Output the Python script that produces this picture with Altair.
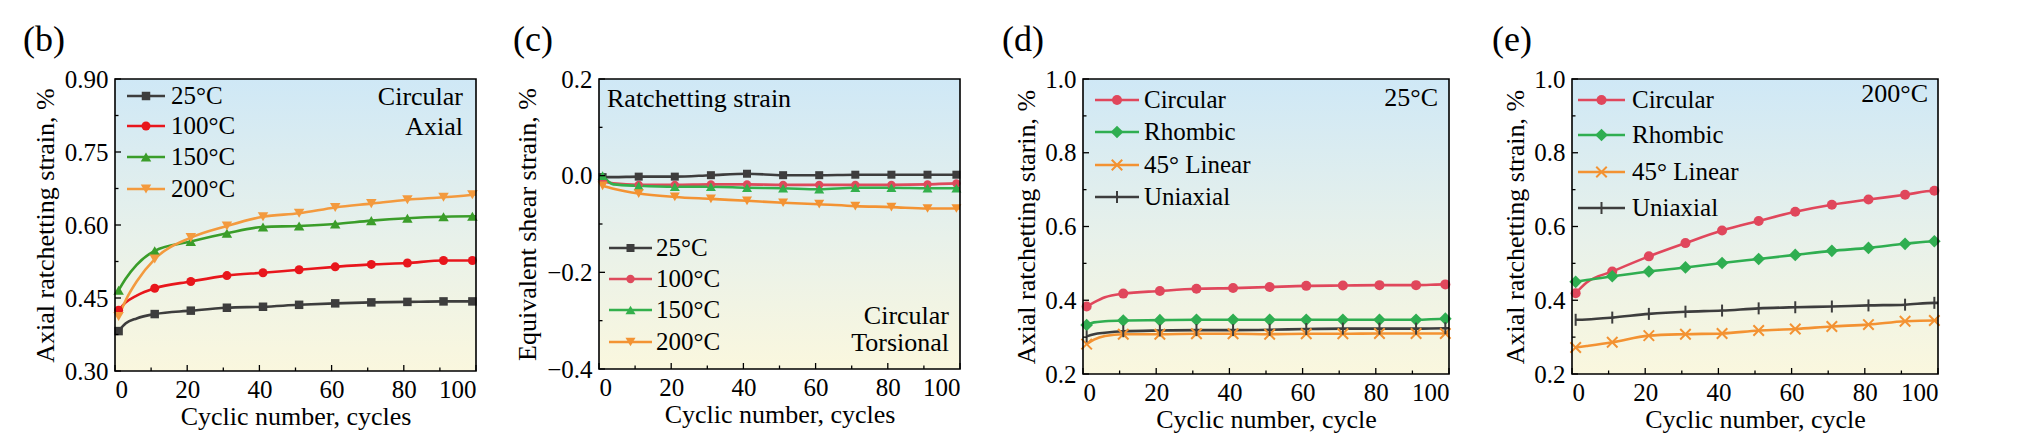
import altair as alt
import pandas as pd

FONT = "Liberation Serif"

# ---------------- data ----------------
MARKER_CYCLES = [1, 11, 21, 31, 41, 51, 61, 71, 81, 91, 99]

# panel (b)
B_CYCLES = [1, 3, 6, 11, 21, 31, 41, 51, 61, 71, 81, 91, 99, 100]
B_25 = [0.382, 0.398, 0.408, 0.417, 0.424, 0.430, 0.432, 0.436, 0.439, 0.441, 0.442, 0.443, 0.443, 0.443]
B_100 = [0.425, 0.441, 0.455, 0.470, 0.484, 0.496, 0.502, 0.508, 0.514, 0.519, 0.522, 0.527, 0.527, 0.527]
B_150 = [0.466, 0.490, 0.518, 0.547, 0.566, 0.583, 0.596, 0.598, 0.602, 0.609, 0.614, 0.617, 0.618, 0.618]
B_200 = [0.412, 0.446, 0.484, 0.530, 0.574, 0.598, 0.617, 0.624, 0.636, 0.644, 0.652, 0.657, 0.662, 0.663]

# panel (c)
C_CYCLES = [1, 4, 11, 21, 31, 41, 51, 61, 71, 81, 91, 99, 100]
C_25 = [-0.003, -0.003, -0.002, -0.002, 0.001, 0.004, 0.001, 0.001, 0.002, 0.002, 0.002, 0.002, 0.002]
C_100 = [-0.011, -0.016, -0.019, -0.019, -0.018, -0.018, -0.019, -0.019, -0.019, -0.019, -0.018, -0.016, -0.016]
C_150 = [0.000, -0.018, -0.021, -0.023, -0.023, -0.025, -0.026, -0.028, -0.025, -0.025, -0.026, -0.026, -0.026]
C_200 = [-0.021, -0.027, -0.037, -0.044, -0.048, -0.052, -0.056, -0.059, -0.063, -0.065, -0.068, -0.068, -0.068]

# panel (d)
D_CYCLES = [1, 3, 6, 11, 21, 31, 41, 51, 61, 71, 81, 91, 99, 100]
D_CIRC = [0.383, 0.394, 0.408, 0.418, 0.425, 0.431, 0.433, 0.436, 0.439, 0.440, 0.441, 0.441, 0.443, 0.443]
D_RHOM = [0.333, 0.340, 0.343, 0.345, 0.346, 0.347, 0.347, 0.347, 0.347, 0.347, 0.347, 0.347, 0.350, 0.350]
D_LIN = [0.281, 0.293, 0.303, 0.308, 0.308, 0.309, 0.309, 0.308, 0.309, 0.309, 0.310, 0.310, 0.310, 0.310]
D_UNI = [0.302, 0.308, 0.312, 0.316, 0.318, 0.319, 0.319, 0.320, 0.322, 0.323, 0.323, 0.323, 0.324, 0.324]

# panel (e)
E_CYCLES = [1, 4, 11, 21, 31, 41, 51, 61, 71, 81, 91, 99, 100]
E_CIRC = [0.419, 0.448, 0.478, 0.519, 0.555, 0.589, 0.615, 0.640, 0.659, 0.673, 0.686, 0.697, 0.697]
E_RHOM = [0.450, 0.455, 0.465, 0.478, 0.489, 0.501, 0.512, 0.523, 0.534, 0.542, 0.553, 0.560, 0.560]
E_LIN = [0.272, 0.276, 0.286, 0.304, 0.308, 0.310, 0.318, 0.322, 0.329, 0.334, 0.343, 0.345, 0.345]
E_UNI = [0.347, 0.348, 0.353, 0.363, 0.369, 0.372, 0.378, 0.381, 0.383, 0.386, 0.388, 0.393, 0.393]

X_MAJOR = [0, 20, 40, 60, 80, 100]
X_MINOR = [10, 30, 50, 70, 90]
B_Y_MAJOR = [0.30, 0.45, 0.60, 0.75, 0.90]
B_Y_MINOR = [0.375, 0.525, 0.675, 0.825]
C_Y_MAJOR = [-0.4, -0.2, 0.0, 0.2]
C_Y_MINOR = [-0.3, -0.1, 0.1]
DE_Y_MAJOR = [0.2, 0.4, 0.6, 0.8, 1.0]
DE_Y_MINOR = [0.3, 0.5, 0.7, 0.9]

TEMP_NAMES = ["25°C", "100°C", "150°C", "200°C"]
PATH_NAMES = ["Circular", "Rhombic", "45° Linear", "Uniaxial"]

X_SHAPE = "M-1,-1L1,1M-1,1L1,-1"
V_SHAPE = "M0,-1L0,1"

GRADIENT = alt.Gradient(
    gradient="linear",
    stops=[
        alt.GradientStop(color="#cfe8f6", offset=0),
        alt.GradientStop(color="#e8f1ea", offset=0.55),
        alt.GradientStop(color="#faf7de", offset=1),
    ],
    x1=0, x2=0, y1=0, y2=1,
)


def panel(cycles, series, ydom, ymajor, yminor, yfmt, W, H, ytitle, xtitle,
          ytitle_x, label, label_x, notes, leg_rows, leg_x):
    xs = alt.Scale(domain=[0, 100], nice=False, zero=False)
    ys = alt.Scale(domain=ydom, nice=False, zero=False)
    common = dict(ticks=False, domain=False, grid=False,
                  labelFont=FONT, labelFontSize=25, labelColor="black",
                  titleFont=FONT, titleFontSize=26, titleFontWeight="normal",
                  titleColor="black")
    xaxis = alt.Axis(values=X_MAJOR, format="d", title=xtitle, labelPadding=6,
                     titleY=45, titleBaseline="middle", **common)
    yaxis = alt.Axis(values=ymajor, format=yfmt, title=ytitle, labelPadding=7,
                     titleX=ytitle_x, titleY=H / 2, titleAngle=-90,
                     titleBaseline="middle", titleAlign="center", **common)
    one = pd.DataFrame({"a": [0]})
    layers = []
    # background gradient
    layers.append(alt.Chart(one).mark_rect(color=GRADIENT).encode(
        x=alt.value(0), x2=alt.value(W), y=alt.value(0), y2=alt.value(H)))
    # data lines
    for s in series:
        df = pd.DataFrame({"cycle": cycles, "value": s["values"]})
        layers.append(alt.Chart(df).mark_line(
            interpolate="monotone", strokeWidth=2.6, color=s["color"]).encode(
            x=alt.X("cycle:Q", scale=xs, axis=xaxis),
            y=alt.Y("value:Q", scale=ys, axis=yaxis)))
    for s in series:
        df = pd.DataFrame({"cycle": cycles, "value": s["values"]})
        df = df[df["cycle"].isin(MARKER_CYCLES)]
        layers.append(alt.Chart(df).mark_point(
            shape=s["shape"], filled=s["filled"], size=s["size"],
            color=s["color"], strokeWidth=s.get("sw", 1), opacity=1).encode(
            x=alt.X("cycle:Q", scale=xs, axis=xaxis),
            y=alt.Y("value:Q", scale=ys, axis=yaxis)))
    # ticks (inward)
    for vals, ln in ((X_MAJOR, 6), (X_MINOR, 3.5)):
        layers.append(alt.Chart(pd.DataFrame({"v": vals})).mark_rule(
            color="black", strokeWidth=1.3).encode(
            x=alt.X("v:Q", scale=xs, axis=xaxis),
            y=alt.value(H), y2=alt.value(H - ln)))
    for vals, ln in ((ymajor, 6), (yminor, 3.5)):
        layers.append(alt.Chart(pd.DataFrame({"v": vals})).mark_rule(
            color="black", strokeWidth=1.3).encode(
            y=alt.Y("v:Q", scale=ys, axis=yaxis),
            x=alt.value(0), x2=alt.value(ln)))
    # legend
    lx0, lx1, ltx = leg_x
    for s, ry in zip(series, leg_rows):
        layers.append(alt.Chart(one).mark_rule(
            color=s["color"], strokeWidth=2.6).encode(
            x=alt.value(lx0), x2=alt.value(lx1), y=alt.value(ry)))
        layers.append(alt.Chart(one).mark_point(
            shape=s["shape"], filled=s["filled"], size=s["size"],
            color=s["color"], strokeWidth=s.get("sw", 1), opacity=1).encode(
            x=alt.value((lx0 + lx1) / 2), y=alt.value(ry)))
        layers.append(alt.Chart(one).mark_text(
            text=s["name"], align="left", baseline="middle", font=FONT,
            fontSize=25, color="black").encode(
            x=alt.value(ltx), y=alt.value(ry)))
    # annotations
    for txt, nx, ny, al in notes:
        layers.append(alt.Chart(one).mark_text(
            text=txt, align=al, baseline="alphabetic", font=FONT,
            fontSize=26, color="black").encode(
            x=alt.value(nx), y=alt.value(ny)))
    # frame
    layers.append(alt.Chart(one).mark_rect(
        fillOpacity=0, stroke="black", strokeWidth=1.6).encode(
        x=alt.value(0), x2=alt.value(W), y=alt.value(0), y2=alt.value(H)))
    # panel label
    layers.append(alt.Chart(one).mark_text(
        text=label, align="left", baseline="alphabetic", font=FONT,
        fontSize=36, color="black").encode(
        x=alt.value(label_x), y=alt.value(-28)))
    return alt.layer(*layers).properties(width=W, height=H)


GRAY = "#3d3d3d"
b_series = [
    dict(name=TEMP_NAMES[0], values=B_25, color=GRAY, shape="square", filled=True, size=72),
    dict(name=TEMP_NAMES[1], values=B_100, color="#e8161c", shape="circle", filled=True, size=81),
    dict(name=TEMP_NAMES[2], values=B_150, color="#3a9d2a", shape="triangle-up", filled=True, size=110),
    dict(name=TEMP_NAMES[3], values=B_200, color="#f39a3e", shape="triangle-down", filled=True, size=110),
]
c_series = [
    dict(name=TEMP_NAMES[0], values=C_25, color=GRAY, shape="square", filled=True, size=64),
    dict(name=TEMP_NAMES[1], values=C_100, color="#de4a5c", shape="circle", filled=True, size=70),
    dict(name=TEMP_NAMES[2], values=C_150, color="#33b04c", shape="triangle-up", filled=True, size=100),
    dict(name=TEMP_NAMES[3], values=C_200, color="#f39333", shape="triangle-down", filled=True, size=100),
]


def path_series(vals):
    return [
        dict(name=PATH_NAMES[0], values=vals[0], color="#e0475c", shape="circle", filled=True, size=100),
        dict(name=PATH_NAMES[1], values=vals[1], color="#2fae51", shape="diamond", filled=True, size=160),
        dict(name=PATH_NAMES[2], values=vals[2], color="#f39232", shape=X_SHAPE, filled=False, size=110, sw=2),
        dict(name=PATH_NAMES[3], values=vals[3], color=GRAY, shape=V_SHAPE, filled=False, size=144, sw=2),
    ]


WB, HB = 361, 292
WC, HC = 361, 290
WD, HD = 366, 295
WE, HE = 366, 295

pb = panel(B_CYCLES, b_series, [0.30, 0.90], B_Y_MAJOR, B_Y_MINOR, ".2f", WB, HB,
           "Axial ratchetting strain, %", "Cyclic number, cycles", -70, "(b)", -92,
           [("Circular", WB - 13, 26, "right"), ("Axial", WB - 13, 56, "right")],
           [17, 47, 78, 110], (12, 50, 56))
pc = panel(C_CYCLES, c_series, [-0.4, 0.2], C_Y_MAJOR, C_Y_MINOR, ".1f", WC, HC,
           "Equivalent shear strain, %", "Cyclic number, cycles", -72, "(c)", -86,
           [("Ratchetting strain", 8, 28, "left"), ("Circular", WC - 11, 245, "right"),
            ("Torsional", WC - 11, 272, "right")],
           [169, 200, 231, 263], (10, 53, 57))
pdd = panel(D_CYCLES, path_series([D_CIRC, D_RHOM, D_LIN, D_UNI]), [0.2, 1.0], DE_Y_MAJOR,
            DE_Y_MINOR, ".1f", WD, HD,
            "Axial ratchetting starin, %", "Cyclic number, cycle", -57, "(d)", -81,
            [("25°C", WD - 11, 27, "right")],
            [21, 53, 86, 118], (12, 56, 61))
pe = panel(E_CYCLES, path_series([E_CIRC, E_RHOM, E_LIN, E_UNI]), [0.2, 1.0], DE_Y_MAJOR,
           DE_Y_MINOR, ".1f", WE, HE,
           "Axial ratchetting strain, %", "Cyclic number, cycle", -57, "(e)", -80,
           [("200°C", WE - 10, 23, "right")],
           [21, 56, 93, 129], (6, 53, 60))

chart = alt.hconcat(pb, pc, pdd, pe, spacing=123, bounds="flush").properties(
    padding={"left": 15, "top": 14, "right": 5, "bottom": 5},
    background="white",
).configure_view(strokeWidth=0)

chart.save("out.html", embed_options={"renderer": "svg", "actions": False})
